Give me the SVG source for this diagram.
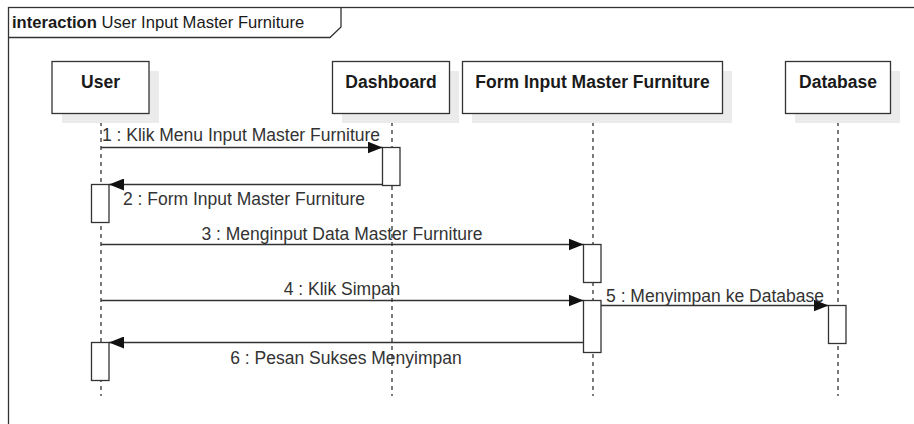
<svg xmlns="http://www.w3.org/2000/svg" width="914" height="424" viewBox="0 0 914 424">
<defs>
<style>
.frame{fill:none;stroke:#333;stroke-width:1.3}
.box{fill:#fff;stroke:#333;stroke-width:1.3}
.shadow{fill:#ebebeb;stroke:none}
.life{stroke:#333;stroke-width:1.3;stroke-dasharray:4 4;fill:none}
.act{fill:#fff;stroke:#333;stroke-width:1.3}
.msg{stroke:#333;stroke-width:1.3;fill:none}
.name{font-family:"Liberation Sans",Arial,sans-serif;font-size:17.5px;font-weight:bold;fill:#1a1a1a;text-anchor:middle}
.lbl{font-family:"Liberation Sans",Arial,sans-serif;font-size:17.5px;fill:#333}
.title{font-family:"Liberation Sans",Arial,sans-serif;font-size:16.6px;fill:#1a1a1a}
</style>
<marker id="ah" markerWidth="15" markerHeight="12" refX="15" refY="6" orient="auto" markerUnits="userSpaceOnUse">
<path d="M0,0 L15,6 L0,12 Z" fill="#111"/>
</marker>
</defs>
<rect width="914" height="424" fill="#fff"/>
<g id="frame">
<rect class="frame" x="8.5" y="7.5" width="1000" height="500"/>
<path class="frame" d="M8.5,37.5 H330 L341,27 V7.5"/>
<text class="title" x="12" y="28"><tspan font-weight="bold">interaction</tspan> User Input Master Furniture</text>
</g>
<g id="lifelines">
<line class="life" x1="101" y1="114" x2="101" y2="396"/>
<line class="life" x1="392" y1="114" x2="392" y2="396"/>
<line class="life" x1="593" y1="114" x2="593" y2="396"/>
<line class="life" x1="838" y1="114" x2="838" y2="396"/>
</g>
<g id="user">
<rect class="shadow" x="62" y="71" width="97" height="52"/>
<rect class="box" x="52" y="61.5" width="97" height="52"/>
<text class="name" x="100.5" y="88">User</text>
</g>
<g id="dashboard">
<rect class="shadow" x="342" y="71" width="117" height="52"/>
<rect class="box" x="332.5" y="61.5" width="117" height="52"/>
<text class="name" x="391" y="88">Dashboard</text>
</g>
<g id="form">
<rect class="shadow" x="472" y="71" width="260" height="52"/>
<rect class="box" x="462.5" y="61.5" width="260" height="52"/>
<text class="name" x="592.5" y="88">Form Input Master Furniture</text>
</g>
<g id="database">
<rect class="shadow" x="795" y="71" width="105" height="52"/>
<rect class="box" x="785.5" y="61.5" width="105" height="52"/>
<text class="name" x="838" y="88">Database</text>
</g>
<g id="activations">
<rect class="act" x="382.5" y="147.5" width="17.5" height="38"/>
<rect class="act" x="91.5" y="184.5" width="17.5" height="38"/>
<rect class="act" x="583.5" y="244.5" width="17.5" height="38"/>
<rect class="act" x="583.5" y="300.5" width="17.5" height="52"/>
<rect class="act" x="828.5" y="305.5" width="17.5" height="38"/>
<rect class="act" x="91.5" y="342.5" width="17.5" height="38"/>
</g>
<g id="connectors">
<line class="msg" x1="101" y1="147.5" x2="382.5" y2="147.5" marker-end="url(#ah)"/>
<line class="msg" x1="382.5" y1="184.5" x2="109" y2="184.5" marker-end="url(#ah)"/>
<line class="msg" x1="101" y1="244.5" x2="583.5" y2="244.5" marker-end="url(#ah)"/>
<line class="msg" x1="101" y1="300.5" x2="583.5" y2="300.5" marker-end="url(#ah)"/>
<line class="msg" x1="601" y1="305.5" x2="828.5" y2="305.5" marker-end="url(#ah)"/>
<line class="msg" x1="583.5" y1="342.5" x2="109" y2="342.5" marker-end="url(#ah)"/>
</g>
<g id="labels">
<text class="lbl" x="241" y="141" text-anchor="middle">1 : Klik Menu Input Master Furniture</text>
<text class="lbl" x="244" y="205" text-anchor="middle">2 : Form Input Master Furniture</text>
<text class="lbl" x="342" y="240" text-anchor="middle">3 : Menginput Data Master Furniture</text>
<text class="lbl" x="342" y="295" text-anchor="middle">4 : Klik Simpan</text>
<text class="lbl" x="715" y="302" text-anchor="middle">5 : Menyimpan ke Database</text>
<text class="lbl" x="346" y="364" text-anchor="middle">6 : Pesan Sukses Menyimpan</text>
</g>
</svg>
